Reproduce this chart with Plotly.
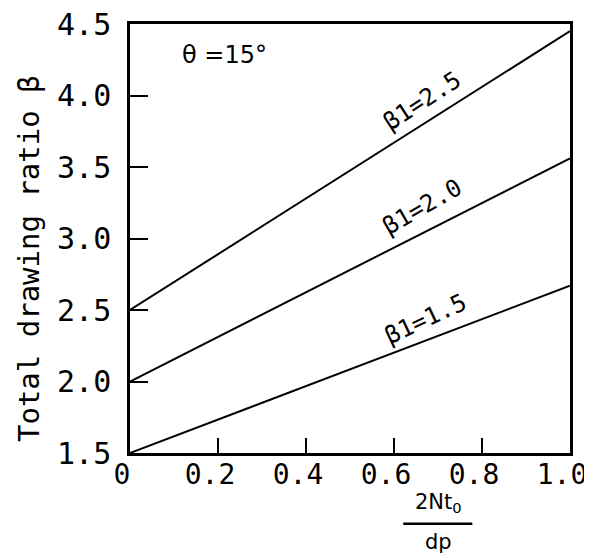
import plotly.graph_objects as go

# Data
x_vals = [0.0, 1.0]
beta1_labels = ["β1=1.5", "β1=2.0", "β1=2.5"]
beta_15 = [1.5, 2.67]
beta_20 = [2.0, 3.56]
beta_25 = [2.5, 4.45]
x_ticks = [0, 0.2, 0.4, 0.6, 0.8, 1.0]
x_ticklabels = ["0", "0.2", "0.4", "0.6", "0.8", "1.0"]
y_ticks = [1.5, 2.0, 2.5, 3.0, 3.5, 4.0, 4.5]
y_ticklabels = ["1.5", "2.0", "2.5", "3.0", "3.5", "4.0", "4.5"]
label_x = [0.672, 0.664, 0.664]
label_y = [2.44, 3.22, 3.96]
label_angle = [-25, -30, -33]

FONT = "DejaVu Sans Mono"

fig = go.Figure()
for ys in (beta_15, beta_20, beta_25):
    fig.add_trace(go.Scatter(x=x_vals, y=ys, mode="lines",
                             line=dict(color="black", width=2),
                             showlegend=False, hoverinfo="skip"))

for t, lx, ly, ang in zip(beta1_labels, label_x, label_y, label_angle):
    fig.add_annotation(x=lx, y=ly, text=t, textangle=ang, showarrow=False,
                       xanchor="center", yanchor="middle",
                       font=dict(family=FONT, size=24, color="black"))

fig.add_annotation(x=0.215, y=4.28, text="θ =15°", showarrow=False,
                   xanchor="center", yanchor="middle",
                   font=dict(family="DejaVu Sans", size=24, color="black"))

# y-axis title
fig.add_annotation(xref="paper", yref="paper", x=-0.231, y=0.453,
                   text="Total drawing ratio β", textangle=-90, showarrow=False,
                   xanchor="center", yanchor="middle",
                   font=dict(family=FONT, size=29, color="black"))

# x-axis title as fraction
fig.add_annotation(xref="paper", yref="paper", x=0.70, y=-0.116,
                   text="2Nt<sub>0</sub>", showarrow=False,
                   xanchor="center", yanchor="middle",
                   font=dict(family="DejaVu Sans", size=21, color="black"))
fig.add_annotation(xref="paper", yref="paper", x=0.70, y=-0.207,
                   text="dp", showarrow=False,
                   xanchor="center", yanchor="middle",
                   font=dict(family="DejaVu Sans", size=21, color="black"))
fig.add_shape(type="line", xref="paper", yref="paper",
              x0=0.621, x1=0.778, y0=-0.165, y1=-0.165,
              line=dict(color="black", width=2.5))

fig.update_xaxes(range=[0, 1.0], tickvals=x_ticks, ticktext=x_ticklabels,
                 ticks="inside", ticklen=15, tickwidth=2, tickcolor="black",
                 showline=True, linecolor="black", linewidth=2.5, mirror=True,
                 showgrid=False, zeroline=False, automargin=False,
                 ticklabeloverflow="allow", ticklabelshift=-8,
                 ticklabelstandoff=-5,
                 tickfont=dict(family=FONT, size=28, color="black"))
fig.update_yaxes(range=[1.5, 4.5], tickvals=y_ticks, ticktext=y_ticklabels,
                 ticks="inside", ticklen=18, tickwidth=2, tickcolor="black",
                 showline=True, linecolor="black", linewidth=2.5, mirror=True,
                 showgrid=False, zeroline=False, automargin=False,
                 ticklabeloverflow="allow", ticklabelstandoff=10,
                 tickfont=dict(family=FONT, size=30, color="black"))

# page body adds an 8px margin, so the figure is sized to fill the rest
fig.update_layout(width=584, height=548,
                  margin=dict(l=122, r=22, t=16, b=103),
                  plot_bgcolor="white", paper_bgcolor="white")

fig.write_html("out.html")
